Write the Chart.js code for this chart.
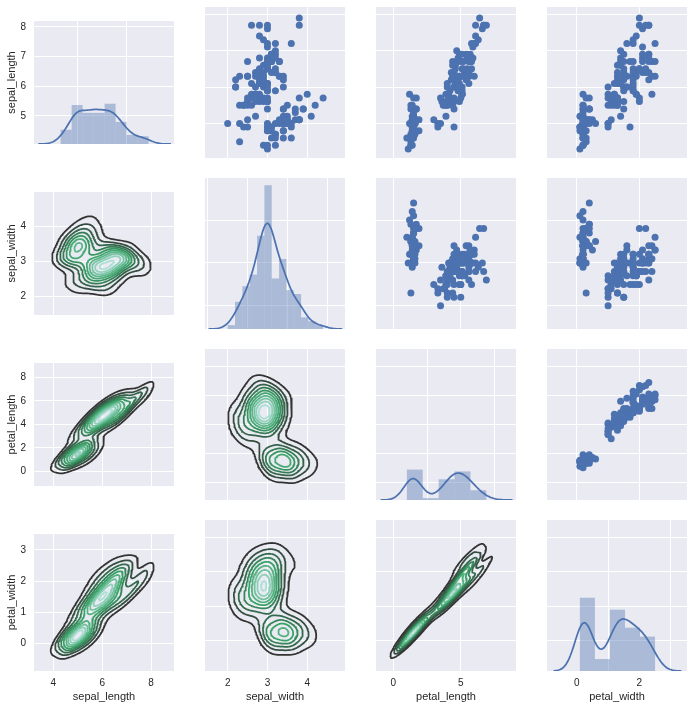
<!DOCTYPE html>
<html>
<head>
<meta charset="utf-8">
<script src="https://cdn.jsdelivr.net/npm/chart.js@4/dist/chart.umd.min.js"></script>
<style>
  html, body { margin: 0; padding: 0; background: #ffffff; }
  #grid { position: relative; width: 694px; height: 709px; overflow: hidden; }
  #grid canvas { position: absolute; }
</style>
</head>
<body>
<div id="grid"></div>
<script>
// iris measurements, one array per variable (setosa, versicolor, virginica)
var variables = ["sepal_length", "sepal_width", "petal_length", "petal_width"];

var sepalLength = [
  5.1,4.9,4.7,4.6,5.0,5.4,4.6,5.0,4.4,4.9,5.4,4.8,4.8,4.3,5.8,5.7,5.4,5.1,5.7,5.1,5.4,5.1,4.6,5.1,4.8,
  5.0,5.0,5.2,5.2,4.7,4.8,5.4,5.2,5.5,4.9,5.0,5.5,4.9,4.4,5.1,5.0,4.5,4.4,5.0,5.1,4.8,5.1,4.6,5.3,5.0,
  7.0,6.4,6.9,5.5,6.5,5.7,6.3,4.9,6.6,5.2,5.0,5.9,6.0,6.1,5.6,6.7,5.6,5.8,6.2,5.6,5.9,6.1,6.3,6.1,6.4,
  6.6,6.8,6.7,6.0,5.7,5.5,5.5,5.8,6.0,5.4,6.0,6.7,6.3,5.6,5.5,5.5,6.1,5.8,5.0,5.6,5.7,5.7,6.2,5.1,5.7,
  6.3,5.8,7.1,6.3,6.5,7.6,4.9,7.3,6.7,7.2,6.5,6.4,6.8,5.7,5.8,6.4,6.5,7.7,7.7,6.0,6.9,5.6,7.7,6.3,6.7,
  7.2,6.2,6.1,6.4,7.2,7.4,7.9,6.4,6.3,6.1,7.7,6.3,6.4,6.0,6.9,6.7,6.9,5.8,6.8,6.7,6.7,6.3,6.5,6.2,5.9
];
var sepalWidth = [
  3.5,3.0,3.2,3.1,3.6,3.9,3.4,3.4,2.9,3.1,3.7,3.4,3.0,3.0,4.0,4.4,3.9,3.5,3.8,3.8,3.4,3.7,3.6,3.3,3.4,
  3.0,3.4,3.5,3.4,3.2,3.1,3.4,4.1,4.2,3.1,3.2,3.5,3.6,3.0,3.4,3.5,2.3,3.2,3.5,3.8,3.0,3.8,3.2,3.7,3.3,
  3.2,3.2,3.1,2.3,2.8,2.8,3.3,2.4,2.9,2.7,2.0,3.0,2.2,2.9,2.9,3.1,3.0,2.7,2.2,2.5,3.2,2.8,2.5,2.8,2.9,
  3.0,2.8,3.0,2.9,2.6,2.4,2.4,2.7,2.7,3.0,3.4,3.1,2.3,3.0,2.5,2.6,3.0,2.6,2.3,2.7,3.0,2.9,2.9,2.5,2.8,
  3.3,2.7,3.0,2.9,3.0,3.0,2.5,2.9,2.5,3.6,3.2,2.7,3.0,2.5,2.8,3.2,3.0,3.8,2.6,2.2,3.2,2.8,2.8,2.7,3.3,
  3.2,2.8,3.0,2.8,3.0,2.8,3.8,2.8,2.8,2.6,3.0,3.4,3.1,3.0,3.1,3.1,3.1,2.7,3.2,3.3,3.0,2.5,3.0,3.4,3.0
];
var petalLength = [
  1.4,1.4,1.3,1.5,1.4,1.7,1.4,1.5,1.4,1.5,1.5,1.6,1.4,1.1,1.2,1.5,1.3,1.4,1.7,1.5,1.7,1.5,1.0,1.7,1.9,
  1.6,1.6,1.5,1.4,1.6,1.6,1.5,1.5,1.4,1.5,1.2,1.3,1.4,1.3,1.5,1.3,1.3,1.3,1.6,1.9,1.4,1.6,1.4,1.5,1.4,
  4.7,4.5,4.9,4.0,4.6,4.5,4.7,3.3,4.6,3.9,3.5,4.2,4.0,4.7,3.6,4.4,4.5,4.1,4.5,3.9,4.8,4.0,4.9,4.7,4.3,
  4.4,4.8,5.0,4.5,3.5,3.8,3.7,3.9,5.1,4.5,4.5,4.7,4.4,4.1,4.0,4.4,4.6,4.0,3.3,4.2,4.2,4.2,4.3,3.0,4.1,
  6.0,5.1,5.9,5.6,5.8,6.6,4.5,6.3,5.8,6.1,5.1,5.3,5.5,5.0,5.1,5.3,5.5,6.7,6.9,5.0,5.7,4.9,6.7,4.9,5.7,
  6.0,4.8,4.9,5.6,5.8,6.1,6.4,5.6,5.1,5.6,6.1,5.6,5.5,4.8,5.4,5.6,5.1,5.1,5.9,5.7,5.2,5.0,5.2,5.4,5.1
];
var petalWidth = [
  0.2,0.2,0.2,0.2,0.2,0.4,0.3,0.2,0.2,0.1,0.2,0.2,0.1,0.1,0.2,0.4,0.4,0.3,0.3,0.3,0.2,0.4,0.2,0.5,0.2,
  0.2,0.4,0.2,0.2,0.2,0.2,0.4,0.1,0.2,0.2,0.2,0.2,0.1,0.2,0.2,0.3,0.3,0.2,0.6,0.4,0.3,0.2,0.2,0.2,0.2,
  1.4,1.5,1.5,1.3,1.5,1.3,1.6,1.0,1.3,1.4,1.0,1.5,1.0,1.4,1.3,1.4,1.5,1.0,1.5,1.1,1.8,1.3,1.5,1.2,1.3,
  1.4,1.4,1.7,1.5,1.0,1.1,1.0,1.2,1.6,1.5,1.6,1.5,1.3,1.3,1.3,1.2,1.4,1.2,1.0,1.3,1.2,1.3,1.3,1.1,1.3,
  2.5,1.9,2.1,1.8,2.2,2.1,1.7,1.8,1.8,2.5,2.0,1.9,2.1,2.0,2.4,2.3,1.8,2.2,2.3,1.5,2.3,2.0,2.0,1.8,2.1,
  1.8,1.8,1.8,2.1,1.6,1.9,2.0,2.2,1.5,1.4,2.3,2.4,1.8,1.8,2.1,2.4,2.3,1.9,2.3,2.5,2.3,1.9,2.0,2.3,1.8
];

// tick labels per column (x) and per row (y)
var colTicks = [[4, 6, 8], [2, 3, 4], [0, 5], [0, 2]];
var rowTicks = [[5, 6, 7, 8], [2, 3, 4], [0, 2, 4, 6, 8], [0, 1, 2, 3]];

// axis limits
var colLimits = [[3.21, 8.94], [1.43, 4.95], [-1.29, 9.1], [-0.95, 3.52]];
var rowLimits = [[4.05, 8.2], [1.46, 4.98], [-1.24, 9.22], [-0.88, 3.51]];

var columns = [sepalLength, sepalWidth, petalLength, petalWidth];

// layout
var FIG_H = 709, LEFT0 = 34, TOP0 = 7, PLOT_W = 140, PLOT_H = 151, STEP = 171;
var FONT = '"Liberation Sans", Arial, sans-serif';
var TEXT_COLOR = "#262626";
var DEEP_BLUE = "#4C72B0";
var GRID_SIZE = 100, CUT = 3, N_LEVELS = 10;

// --- stats helpers: gaussian kde with scott factor, FD histogram bins ---
function sorted(a) { return a.slice().sort(function (p, q) { return p - q; }); }
function percentile(a, p) {
  var s = sorted(a), pos = p / 100 * (s.length - 1), lo = Math.floor(pos), hi = Math.ceil(pos);
  return s[lo] + (s[hi] - s[lo]) * (pos - lo);
}
function mean(a) { var m = 0; a.forEach(function (v) { m += v; }); return m / a.length; }
function covariance(a, b) {
  var ma = mean(a), mb = mean(b), s = 0;
  for (var i = 0; i < a.length; i++) s += (a[i] - ma) * (b[i] - mb);
  return s / (a.length - 1);
}
function support(a, bw) {
  var lo = Math.min.apply(null, a) - CUT * bw, hi = Math.max.apply(null, a) + CUT * bw, out = [];
  for (var i = 0; i < GRID_SIZE; i++) out.push(lo + (hi - lo) * i / (GRID_SIZE - 1));
  return out;
}
function kde1d(a, bw, g) {
  var s = 0;
  a.forEach(function (v) { var u = (g - v) / bw; s += Math.exp(-0.5 * u * u); });
  return s / (a.length * bw * Math.sqrt(2 * Math.PI));
}
function histogram(a) {
  var n = a.length, lo = Math.min.apply(null, a), hi = Math.max.apply(null, a);
  var h = 2 * (percentile(a, 75) - percentile(a, 25)) / Math.pow(n, 1 / 3);
  var bins = Math.min(Math.ceil((hi - lo) / h), 50);
  var w = (hi - lo) / bins, edges = [], counts = [];
  for (var i = 0; i <= bins; i++) edges.push(lo + i * w);
  edges[bins] = hi;
  for (i = 0; i < bins; i++) counts.push(0);
  a.forEach(function (v) {
    var k = Math.floor((v - lo) * bins / (hi - lo));
    if (k >= bins) k = bins - 1;
    if (v < edges[k]) k--;
    else if (k < bins - 1 && v >= edges[k + 1]) k++;
    counts[k]++;
  });
  return counts.map(function (cnt, k) {
    return { x: (edges[k] + edges[k + 1]) / 2, y: cnt / (n * w) };
  });
}

// contour levels like the older matplotlib MaxNLocator(n + 1)
function contourLevels(zmin, zmax, n) {
  var raw = (zmax - zmin) / (n + 1);
  var scale = Math.pow(10, Math.floor(Math.log10(raw)));
  var steps = [1, 1.5, 2, 2.5, 3, 4, 5, 6, 8, 10], step = raw;
  for (var s = 0; s < steps.length; s++) { if (steps[s] * scale >= raw * (1 - 1e-10)) { step = steps[s] * scale; break; } }
  var out = [];
  for (var k = Math.floor(zmin / step); k * step <= zmax + step; k++) {
    var v = k * step;
    if (v > zmin && v < zmax) out.push(v);
  }
  return out;
}

// BuGn_d: #333333 -> BuGn_r(1/3) -> BuGn_r(2/3)
var contourStops = [[51, 51, 51], [55, 162, 102], [170, 223, 211]];
function contourColor(t) {
  var seg = t < 0.5 ? 0 : 1, f = t < 0.5 ? t * 2 : (t - 0.5) * 2;
  var a = contourStops[seg], b = contourStops[seg + 1];
  return "rgb(" + [0, 1, 2].map(function (k) { return Math.round(a[k] + (b[k] - a[k]) * f); }).join(",") + ")";
}

// marching squares, segments chained into polylines, null between pieces
function contourPaths(xs, ys, z, level) {
  var nx = xs.length, ny = ys.length, segs = [];
  function cross(i1, j1, i2, j2) {
    var a = z[j1][i1], b = z[j2][i2], t = (level - a) / (b - a);
    return { x: xs[i1] + (xs[i2] - xs[i1]) * t, y: ys[j1] + (ys[j2] - ys[j1]) * t };
  }
  for (var j = 0; j < ny - 1; j++) {
    for (var i = 0; i < nx - 1; i++) {
      var a = z[j][i] >= level, b = z[j][i + 1] >= level, c = z[j + 1][i + 1] >= level, d = z[j + 1][i] >= level;
      if (a === b && b === c && c === d) continue;
      var e = [];
      if (a !== b) e.push([(j * nx + i) * 2, cross(i, j, i + 1, j)]);
      if (b !== c) e.push([(j * nx + i + 1) * 2 + 1, cross(i + 1, j, i + 1, j + 1)]);
      if (d !== c) e.push([((j + 1) * nx + i) * 2, cross(i, j + 1, i + 1, j + 1)]);
      if (a !== d) e.push([(j * nx + i) * 2 + 1, cross(i, j, i, j + 1)]);
      if (e.length === 2) segs.push([e[0], e[1]]);
      else if (e.length === 4) {
        var center = (z[j][i] + z[j][i + 1] + z[j + 1][i + 1] + z[j + 1][i]) / 4 >= level;
        if (center === a) { segs.push([e[0], e[1]]); segs.push([e[2], e[3]]); }
        else { segs.push([e[0], e[3]]); segs.push([e[1], e[2]]); }
      }
    }
  }
  var byKey = {};
  segs.forEach(function (s, idx) {
    (byKey[s[0][0]] = byKey[s[0][0]] || []).push(idx);
    (byKey[s[1][0]] = byKey[s[1][0]] || []).push(idx);
  });
  var used = segs.map(function () { return false; }), out = [];
  function walk(key, pts, atEnd) {
    for (;;) {
      var list = byKey[key] || [], next = -1;
      for (var q = 0; q < list.length; q++) if (!used[list[q]]) { next = list[q]; break; }
      if (next < 0) return;
      used[next] = true;
      var s = segs[next], other = s[0][0] === key ? s[1] : s[0];
      if (atEnd) pts.push(other[1]); else pts.unshift(other[1]);
      key = other[0];
    }
  }
  segs.forEach(function (s, idx) {
    if (used[idx]) return;
    used[idx] = true;
    var pts = [s[0][1], s[1][1]];
    walk(s[1][0], pts, true);
    walk(s[0][0], pts, false);
    out = out.concat(pts);
    out.push({ x: null, y: null });
  });
  return out;
}

var nObs = sepalLength.length;
var factor1d = Math.pow(nObs, -1 / 5), factor2d = Math.pow(nObs, -1 / 6);
var stds = columns.map(function (a) { return Math.sqrt(covariance(a, a)); });

// 2d gaussian kde, full covariance kernel
function bivariateKde(xa, ya, xs, ys) {
  var f2 = factor2d * factor2d;
  var sxx = covariance(xa, xa) * f2, syy = covariance(ya, ya) * f2, sxy = covariance(xa, ya) * f2;
  var det = sxx * syy - sxy * sxy, ixx = syy / det, iyy = sxx / det, ixy = -sxy / det;
  var n = xa.length, norm = 1 / (n * 2 * Math.PI * Math.sqrt(det)), z = [];
  for (var j = 0; j < ys.length; j++) {
    var row = [];
    for (var i = 0; i < xs.length; i++) {
      var s = 0;
      for (var k = 0; k < n; k++) {
        var dx = xs[i] - xa[k], dy = ys[j] - ya[k];
        s += Math.exp(-0.5 * (dx * dx * ixx + 2 * dx * dy * ixy + dy * dy * iyy));
      }
      row.push(s * norm);
    }
    z.push(row);
  }
  return z;
}

// diagonal: histogram + kde, all sharing one density axis
var diagonal = columns.map(function (a, k) {
  var bw = factor1d * stds[k];
  return {
    hist: histogram(a),
    curve: support(a, bw).map(function (g) { return { x: g, y: kde1d(a, bw, g) }; })
  };
});
var densityMax = 0;
diagonal.forEach(function (d) {
  d.hist.concat(d.curve).forEach(function (p) { densityMax = Math.max(densityMax, p.y); });
});

var plotBackground = {
  id: "plotBackground",
  beforeDraw: function (chart) {
    var a = chart.chartArea, ctx = chart.ctx;
    ctx.save();
    ctx.fillStyle = "#EAEAF2";
    ctx.fillRect(a.left, a.top, a.right - a.left, a.bottom - a.top);
    ctx.restore();
  }
};

function xScale(r, c) {
  var show = r === 3;
  return {
    type: "linear", min: colLimits[c][0], max: colLimits[c][1], offset: false,
    border: { display: false },
    grid: { color: "#ffffff", lineWidth: 1, drawTicks: false },
    ticks: { display: show, padding: 6, color: TEXT_COLOR, font: { family: FONT, size: 10 } },
    title: { display: show, text: variables[c], color: TEXT_COLOR, font: { family: FONT, size: 11 }, padding: { top: 0, bottom: 5 } },
    afterBuildTicks: function (s) { s.ticks = colTicks[c].map(function (v) { return { value: v }; }); },
    afterFit: function (s) { s.height = show ? FIG_H - (TOP0 + STEP * r + PLOT_H) : 0; }
  };
}
function yScale(r, c) {
  var show = c === 0;
  return {
    type: "linear", min: rowLimits[r][0], max: rowLimits[r][1],
    border: { display: false },
    grid: { color: "#ffffff", lineWidth: 1, drawTicks: false },
    ticks: { display: show, padding: 8, color: TEXT_COLOR, font: { family: FONT, size: 10 } },
    title: { display: show, text: variables[r], color: TEXT_COLOR, font: { family: FONT, size: 11 }, padding: { top: 5, bottom: 0 } },
    afterBuildTicks: function (s) { s.ticks = rowTicks[r].map(function (v) { return { value: v }; }); },
    afterFit: function (s) { s.width = show ? LEFT0 : 0; }
  };
}

function buildCell(r, c) {
  var plotLeft = LEFT0 + STEP * c, plotTop = TOP0 + STEP * r;
  var left = c === 0 ? 0 : plotLeft;
  var width = plotLeft + PLOT_W - left;
  var height = r === 3 ? FIG_H - plotTop : PLOT_H;
  var canvas = document.createElement("canvas");
  canvas.width = width; canvas.height = height;
  canvas.style.left = left + "px"; canvas.style.top = plotTop + "px";
  canvas.style.width = width + "px"; canvas.style.height = height + "px";
  document.getElementById("grid").appendChild(canvas);

  var scales = { x: xScale(r, c), y: yScale(r, c) };
  var datasets = [];
  if (r === c) {
    scales.d = { type: "linear", display: false, min: 0, max: densityMax * 1.05 };
    datasets.push({
      type: "scatter", data: diagonal[r].curve, yAxisID: "d", showLine: true, pointRadius: 0,
      borderColor: DEEP_BLUE, borderWidth: 1.75, tension: 0, order: 0
    });
    datasets.push({
      type: "bar", data: diagonal[r].hist, yAxisID: "d", backgroundColor: "rgba(76,114,176,0.4)",
      borderWidth: 0, barPercentage: 1, categoryPercentage: 1, inflateAmount: 0, order: 1
    });
  } else if (r < c) {
    datasets.push({
      data: columns[c].map(function (v, i) { return { x: v, y: columns[r][i] }; }),
      pointRadius: 3.5, pointBackgroundColor: DEEP_BLUE, pointBorderWidth: 0, backgroundColor: DEEP_BLUE
    });
  } else {
    var xs = support(columns[c], factor2d * stds[c]), ys = support(columns[r], factor2d * stds[r]);
    var z = bivariateKde(columns[c], columns[r], xs, ys);
    var zmin = Infinity, zmax = -Infinity;
    z.forEach(function (row) { row.forEach(function (v) { zmin = Math.min(zmin, v); zmax = Math.max(zmax, v); }); });
    var levels = contourLevels(zmin, zmax, N_LEVELS);
    levels.forEach(function (lev, li) {
      var color = contourColor(levels.length > 1 ? li / (levels.length - 1) : 0);
      datasets.push({
        data: contourPaths(xs, ys, z, lev), showLine: true, pointRadius: 0, spanGaps: false,
        borderColor: color, borderWidth: 1.75, tension: 0, borderCapStyle: "round", borderJoinStyle: "round"
      });
    });
  }

  new Chart(canvas.getContext("2d"), {
    type: "scatter",
    data: { datasets: datasets },
    options: {
      responsive: false, animation: false, events: [],
      layout: { padding: 0, autoPadding: false },
      plugins: { legend: { display: false }, tooltip: { enabled: false } },
      scales: scales
    },
    plugins: [plotBackground]
  });
}

for (var r = 0; r < 4; r++) for (var c = 0; c < 4; c++) buildCell(r, c);
</script>
</body>
</html>
